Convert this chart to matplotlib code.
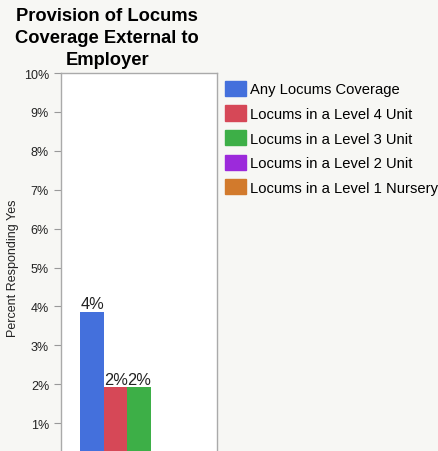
import matplotlib.pyplot as plt
import numpy as np

plt.rcParams['font.family'] = ['Liberation Sans', 'DejaVu Sans']

# -------------------------------------------------------------------------
# Data
# -------------------------------------------------------------------------
series = [
    "Any Locums Coverage",
    "Locums in a Level 4 Unit",
    "Locums in a Level 3 Unit",
    "Locums in a Level 2 Unit",
    "Locums in a Level 1 Nursery",
]
values = [3.85, 1.92, 1.92, 0.0, 0.0]   # percent responding yes
labels = ["4%", "2%", "2%", "", ""]
colors = ["#4470DC", "#D64857", "#3DAF47", "#9C2ADB", "#D27A2C"]
yticks = list(range(1, 11))

# -------------------------------------------------------------------------
# Figure
# -------------------------------------------------------------------------
bg = "#F7F7F4"
fig = plt.figure(figsize=(4.38, 4.52), dpi=100, facecolor=bg)
ax = fig.add_axes([0.139, -0.0243, 0.357, 0.8605])
ax.set_facecolor("white")

width = 0.15
x = (np.arange(len(values)) - (len(values) - 1) / 2) * width
bars = ax.bar(x, values, width=width, color=colors, label=series)
for xi, v, lab in zip(x, values, labels):
    ax.text(xi, v + 0.02, lab, ha="center", va="bottom", fontsize=11.8, color="#222222")

ax.set_xlim(-0.5, 0.5)
ax.set_ylim(0, 10)
ax.set_xticks([])
ax.set_yticks(yticks)
ax.set_yticklabels([f"{t}%" for t in yticks], fontsize=9)
ax.tick_params(axis="y", length=5, color="#999999", labelcolor="#222222")
for s in ax.spines.values():
    s.set_color("#AAAAAA")
    s.set_linewidth(1)
ax.set_ylabel("Percent Responding Yes", fontsize=9, color="#222222")
ax.yaxis.set_label_coords(-0.27, 0.5)

fig.text(0.245, 0.982, "Provision of Locums\nCoverage External to\nEmployer",
         ha="center", va="top", fontsize=13.2, fontweight="bold",
         linespacing=1.38)

handles = [plt.Rectangle((0, 0), 1, 1, color=c) for c in colors]
fig.legend(handles, series, loc="upper left", bbox_to_anchor=(0.50, 0.832),
           frameon=False, fontsize=10.6, handlelength=1.45, handleheight=1.2,
           handletextpad=0.27, labelspacing=0.62, borderaxespad=0)

plt.savefig("out.png", dpi=100, facecolor=bg)
